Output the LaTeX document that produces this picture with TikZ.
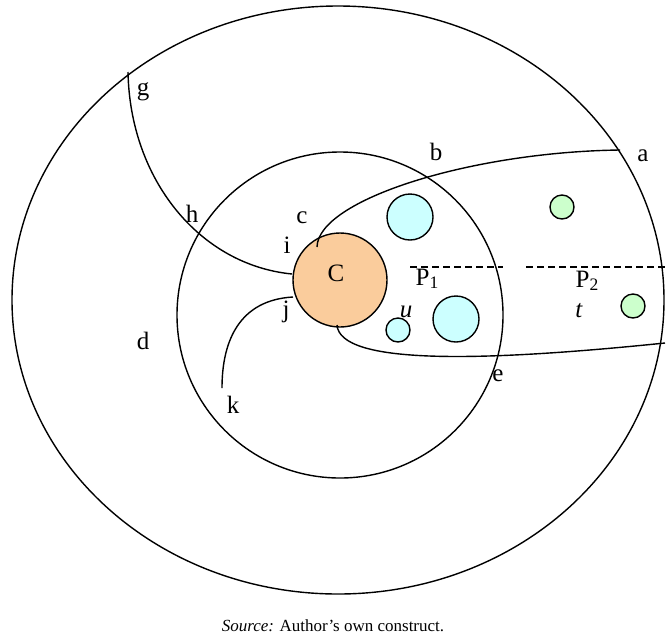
\documentclass[tikz,border=0pt]{standalone}
\usepackage{fontspec}
\setmainfont{Liberation Serif}
\usepackage{xcolor}
\usepackage{tikz}
\usetikzlibrary{positioning}

\definecolor{corefill}{RGB}{250,204,156}
\definecolor{bluefill}{RGB}{204,255,255}
\definecolor{greenfill}{RGB}{204,255,204}

\begin{document}
\begin{tikzpicture}[
    x=1pt, y=-1pt,
    line width=1.4pt,
    lbl/.style={
        font=\fontsize{25}{29}\selectfont,
        inner sep=0pt,
        anchor=base
    },
    core/.style={
        circle,
        draw=black,
        fill=corefill,
        minimum size=94pt,
        inner sep=0pt
    },
    bluedot/.style={circle, draw=black, fill=bluefill, inner sep=0pt},
    greendot/.style={circle, draw=black, fill=greenfill, minimum size=24pt, inner sep=0pt},
    path/.style={line width=1.4pt, draw=black},
    split/.style={line width=1.4pt, dash pattern=on 7pt off 4pt}
]
\clip (0,0) rectangle (666,638);

\draw (338,300) ellipse [x radius=326pt, y radius=294pt];
\draw (340,315) circle [radius=163pt];

\node[core] (C) at (340,280) {};
\node[bluedot, minimum size=46pt] (big1) at (410,217) {};
\node[bluedot, minimum size=46pt] (big2) at (456,319) {};
\node[bluedot, minimum size=24pt] (small) at (398,330) {};
\node[greendot] (dotA) at (562,207) {};
\node[greendot] (dotB) at (633,306) {};

\coordinate (pa) at (620,150);
\coordinate (pc) at (317,247);
\coordinate (pf) at (665,343);
\coordinate (pbot) at (337,325);
\coordinate (pg) at (128,72);
\coordinate (pi) at (292,274);
\coordinate (pj) at (293,297);
\coordinate (pk) at (222,388);
\coordinate (dashA) at (410,267);
\coordinate (dashB) at (503,267);
\coordinate (dashC) at (526,267);
\coordinate (dashD) at (666,267);

\draw[path] (pa) .. controls (470,152) and (318,200) .. (pc);
\draw[path] (pbot) .. controls (340,365) and (480,362) .. (pf);
\draw[path] (pg) .. controls (130,180) and (200,265) .. (pi);
\draw[path] (pj) .. controls (240,300) and (222,340) .. (pk);

\draw[split] (dashA) -- (dashB);
\draw[split] (dashC) -- (dashD);

\node[lbl] (Clbl) at (336,281) {C};
\node[lbl] (a) at (643,161) {a};
\node[lbl] (b) at (436,160) {b};
\node[lbl] (c) at (302,223) {c};
\node[lbl] (d) at (143,349) {d};
\node[lbl] (e) at (498,381) {e};
\node[lbl] (f) at (674,378) {f};
\node[lbl] (g) at (143,95) {g};
\node[lbl] (h) at (192,222) {h};
\node[lbl] (i) at (287,253) {i};
\node[lbl] (j) at (286,317) {j};
\node[lbl] (k) at (233,413) {k};
\node[lbl, anchor=base west] (P1) at (415,285) {P\textsubscript{1}};
\node[lbl, anchor=base west] (P2) at (575,287) {P\textsubscript{2}};
\node[lbl] (u) at (406,317) {\textit{u}};
\node[lbl] (t) at (579,317) {\textit{t}};

\node[lbl, font=\fontsize{17}{20}\selectfont] (source) at (333,631) {\textit{Source:} Author’s own construct.};
\end{tikzpicture}
\end{document}
